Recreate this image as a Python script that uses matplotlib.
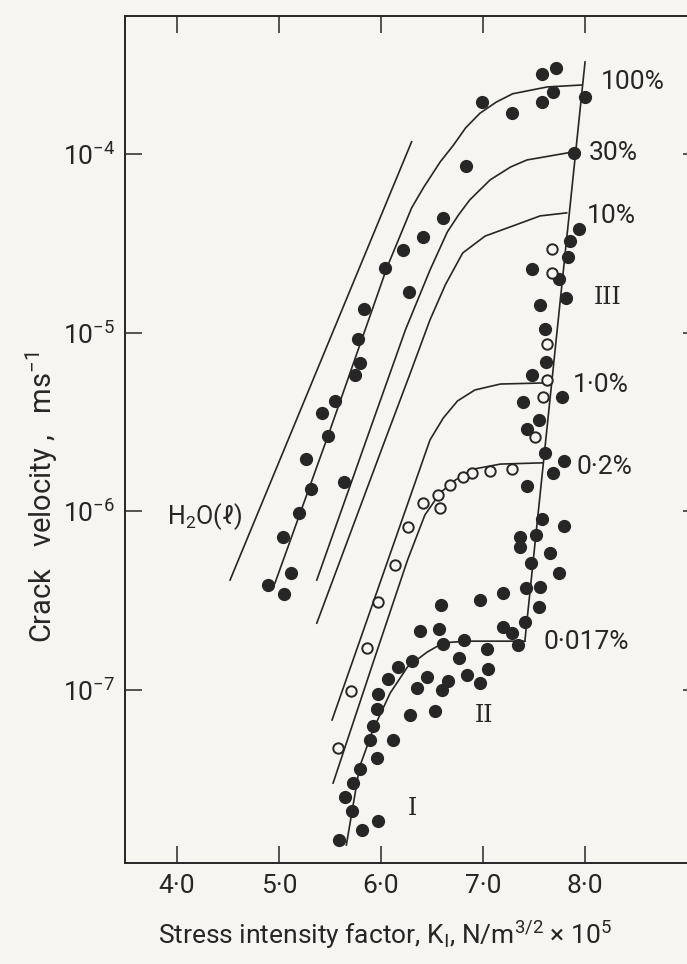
import numpy as np
import matplotlib
matplotlib.use("Agg")
import matplotlib.pyplot as plt
from matplotlib.ticker import NullLocator, FixedLocator, FixedFormatter

plt.rcParams['font.family'] = ['Roboto', 'DejaVu Sans']
plt.rcParams['mathtext.default'] = 'regular'

# ---- data ----
# filled circles: stress intensity (x1e5 N/m^3/2) and crack velocity (m/s)
k_filled = [7.58, 7.72, 7.69, 7.58, 8.00, 6.99, 7.28, 6.83, 6.61, 6.41, 6.22, 6.04, 6.27,
            7.89, 7.94, 7.85, 7.83, 7.48, 7.74, 7.81, 7.56,
            5.83, 5.77, 5.79, 5.74, 5.55, 5.42, 5.48, 5.26, 5.31, 5.20, 5.04, 5.12, 4.89, 5.05, 5.64,
            7.61, 7.62, 7.48, 7.77, 7.39, 7.55, 7.43, 7.61, 7.79, 7.69, 7.43, 7.58, 7.79, 7.36,
            7.52, 7.36, 7.66, 7.47, 7.74, 7.56, 7.42, 7.20, 6.97, 6.59, 7.55,
            6.38, 6.57, 6.61, 6.81, 7.04, 7.20, 7.28, 7.34, 7.41, 6.30, 6.17, 6.07, 6.76, 6.45,
            6.35, 6.66, 6.60, 6.84, 6.97, 7.05, 5.97, 5.96, 6.28, 6.53, 5.92, 5.89, 6.12, 5.96,
            5.79, 5.73, 5.65, 5.72, 5.97, 5.81, 5.59]
v_filled = [2.81e-4, 3.03e-4, 2.22e-4, 1.95e-4, 2.08e-4, 1.95e-4, 1.69e-4, 8.57e-5, 4.39e-5,
            3.43e-5, 2.90e-5, 2.30e-5, 1.69e-5,
            1.01e-4, 3.80e-5, 3.26e-5, 2.65e-5, 2.27e-5, 2.00e-5, 1.56e-5, 1.43e-5,
            1.36e-5, 9.23e-6, 6.76e-6, 5.80e-6, 4.15e-6, 3.56e-6, 2.64e-6, 1.96e-6, 1.33e-6,
            9.79e-7, 7.19e-7, 4.52e-7, 3.87e-7, 3.45e-7, 1.46e-6,
            1.05e-5, 6.86e-6, 5.80e-6, 4.37e-6, 4.09e-6, 3.24e-6, 2.89e-6, 2.12e-6, 1.91e-6,
            1.64e-6, 1.39e-6, 9.06e-7, 8.28e-7, 7.19e-7,
            7.38e-7, 6.32e-7, 5.85e-7, 5.14e-7, 4.52e-7, 3.78e-7, 3.72e-7, 3.49e-7, 3.19e-7,
            2.99e-7, 2.92e-7,
            2.14e-7, 2.20e-7, 1.81e-7, 1.91e-7, 1.70e-7, 2.25e-7, 2.09e-7, 1.79e-7, 2.40e-7,
            1.46e-7, 1.35e-7, 1.15e-7, 1.51e-7, 1.18e-7,
            1.03e-7, 1.12e-7, 1.00e-7, 1.21e-7, 1.10e-7, 1.31e-7, 9.51e-8, 7.83e-8, 7.26e-8,
            7.64e-8, 6.30e-8, 5.26e-8, 5.26e-8, 4.17e-8,
            3.61e-8, 3.02e-8, 2.52e-8, 2.11e-8, 1.85e-8, 1.65e-8, 1.45e-8]

# open circles
k_open = [7.68, 7.68, 7.63, 7.63, 7.59, 7.51, 7.28, 7.07, 6.89, 6.80, 6.68, 6.56, 6.58,
          6.41, 6.26, 6.14, 5.97, 5.86, 5.71, 5.58]
v_open = [2.94e-5, 2.16e-5, 8.65e-6, 5.43e-6, 4.37e-6, 2.61e-6, 1.73e-6, 1.68e-6, 1.64e-6,
          1.56e-6, 1.41e-6, 1.24e-6, 1.04e-6, 1.11e-6, 8.19e-7, 5.01e-7, 3.11e-7, 1.72e-7,
          9.89e-8, 4.74e-8]

# drawn curves (relative humidity)
k_h2o = [4.52, 6.30]
v_h2o = [4.13e-7, 1.17e-4]
k_100 = [4.96, 5.50, 6.06, 6.17, 6.30, 6.42, 6.58, 6.71, 6.83, 6.97, 7.13, 7.29, 7.63, 7.97]
v_100 = [3.97e-7, 2.85e-6, 2.33e-5, 3.30e-5, 4.99e-5, 6.53e-5, 9.02e-5, 1.12e-4, 1.40e-4,
         1.69e-4, 1.95e-4, 2.17e-4, 2.37e-4, 2.43e-4]
k_30 = [5.37, 5.89, 6.24, 6.48, 6.65, 6.76, 6.87, 7.07, 7.27, 7.43, 7.90]
v_30 = [4.13e-7, 2.85e-6, 1.04e-5, 2.24e-5, 3.66e-5, 4.56e-5, 5.53e-5, 7.16e-5, 8.45e-5,
        9.25e-5, 1.03e-4]
k_10 = [5.37, 6.04, 6.28, 6.48, 6.63, 6.80, 7.02, 7.29, 7.56, 7.82]
v_10 = [2.37e-7, 2.51e-6, 5.80e-6, 1.18e-5, 1.85e-5, 2.79e-5, 3.47e-5, 3.95e-5, 4.50e-5, 4.68e-5]
k_1 = [5.52, 6.48, 6.61, 6.75, 6.92, 7.17, 7.64]
v_1 = [6.81e-8, 2.51e-6, 3.33e-6, 4.15e-6, 4.78e-6, 5.16e-6, 5.24e-6]
k_02 = [5.53, 5.93, 6.26, 6.43, 6.58, 6.73, 6.92, 7.17, 7.59]
v_02 = [3.02e-8, 1.47e-7, 5.35e-7, 9.55e-7, 1.27e-6, 1.50e-6, 1.73e-6, 1.84e-6, 1.87e-6]
k_0017 = [5.66, 5.79, 5.92, 6.09, 6.26, 6.45, 6.61, 6.84, 7.41]
v_0017 = [1.36e-8, 3.72e-8, 5.98e-8, 9.64e-8, 1.35e-7, 1.63e-7, 1.84e-7, 1.88e-7, 1.88e-7]
k_III = [7.41, 8.00]
v_III = [1.88e-7, 3.27e-4]

curve_labels = ['100%', '30%', '10%', '1·0%', '0·2%', '0·017%']
label_k = [8.15, 8.04, 8.02, 7.88, 7.92, 7.59]
label_v = [2.53e-4, 1.01e-4, 4.50e-5, 5.09e-6, 1.77e-6, 1.86e-7]

x_ticks = [4.0, 5.0, 6.0, 7.0, 8.0]
x_ticklabels = ['4·0', '5·0', '6·0', '7·0', '8·0']
y_ticks = [1e-7, 1e-6, 1e-5, 1e-4]
y_ticklabels = ['$10^{-7}$', '$10^{-6}$', '$10^{-5}$', '$10^{-4}$']

bg = '#f7f5f1'
ink = '#262626'

fig = plt.figure(figsize=(6.87, 9.64), dpi=100, facecolor=bg)
ax = fig.add_axes([125/687, 101/964, 575/687, 847/964], facecolor=bg)
ax.set_yscale('log')
ax.set_xlim(3.49, 9.127)
ax.set_ylim(1.079e-8, 5.91e-4)

for k, v in [(k_h2o, v_h2o), (k_100, v_100), (k_30, v_30), (k_10, v_10),
             (k_1, v_1), (k_02, v_02), (k_0017, v_0017), (k_III, v_III)]:
    ax.plot(k, v, color=ink, lw=1.2, zorder=2, solid_joinstyle='round')

ax.plot(k_filled, v_filled, 'o', ms=8.5, color=ink, mec=ink, zorder=3)
ax.plot(k_open, v_open, 'o', ms=7.5, mfc=bg, mec=ink, mew=1.4, zorder=4)

for lab, k, v in zip(curve_labels, label_k, label_v):
    ax.text(k, v, lab, fontsize=19, color=ink, ha='left', va='center')

ax.text(3.90, 9.31e-7, 'H$_2$O($\\ell$)', fontsize=18, color=ink, ha='left', va='center')
ax.text(8.22, 1.58e-5, 'III', fontsize=17, family='DejaVu Serif', color=ink,
        ha='center', va='center')
ax.text(7.01, 7.26e-8, 'II', fontsize=17, family='DejaVu Serif', color=ink,
        ha='center', va='center')
ax.text(6.31, 2.19e-8, 'I', fontsize=17, family='DejaVu Serif', color=ink,
        ha='center', va='center')

ax.xaxis.set_major_locator(FixedLocator(x_ticks))
ax.xaxis.set_major_formatter(FixedFormatter(x_ticklabels))
ax.yaxis.set_major_locator(FixedLocator(y_ticks))
ax.yaxis.set_major_formatter(FixedFormatter(y_ticklabels))
ax.yaxis.set_minor_locator(NullLocator())
ax.xaxis.set_minor_locator(NullLocator())
ax.tick_params(which='major', direction='in', length=12, width=1.1, color=ink,
               top=True, right=True, labelsize=19, labelcolor=ink)
ax.tick_params(axis='x', pad=8)
ax.tick_params(axis='y', pad=7)
for s in ax.spines.values():
    s.set_linewidth(1.4)
    s.set_color(ink)

fig.text(42/687, 1 - 497/964, 'Crack   velocity ,   ms$^{-1}$', rotation=90,
         fontsize=21, color=ink, ha='center', va='center')
fig.text(385/687, 1 - 935/964,
         'Stress intensity factor, K$_\\mathrm{I}$, N/m$^{3/2}$ × 10$^5$',
         fontsize=19, color=ink, ha='center', va='center')

fig.savefig('out.png', dpi=100, facecolor=bg)
